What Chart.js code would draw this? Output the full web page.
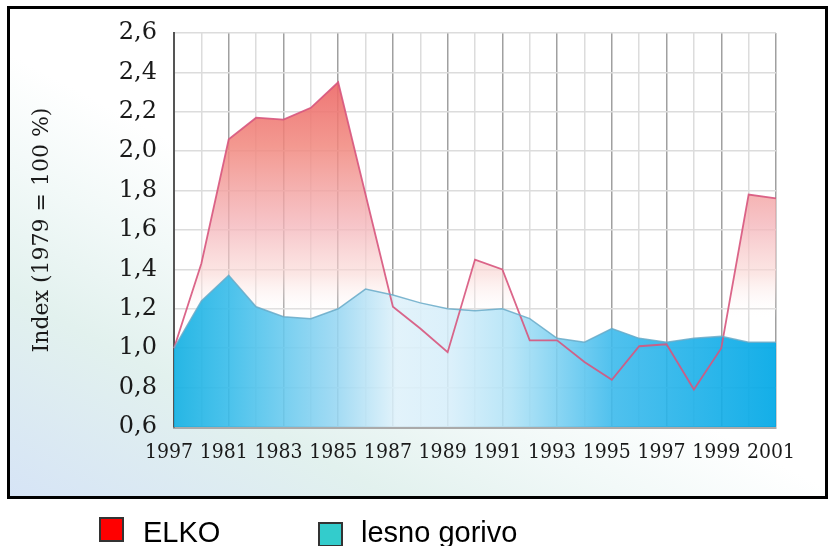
<!DOCTYPE html>
<html>
<head>
<meta charset="utf-8">
<script src="https://cdn.jsdelivr.net/npm/chart.js@4/dist/chart.umd.min.js"></script>
<style>
  html, body { margin: 0; padding: 0; background: #fff; width: 835px; height: 546px; overflow: hidden; }
  #frame {
    position: absolute; left: 7px; top: 6px; width: 821px; height: 493px;
    box-sizing: border-box; border: 3px solid #000;
    background: linear-gradient(28deg, rgba(214,228,246,1) 0%, rgba(226,241,238,1) 22%, rgba(242,249,248,1) 36%, #fff 48%);
  }
  #chart { position: absolute; left: 0; top: 0; }
  .key { position: absolute; width: 25px; height: 25px; box-sizing: border-box; border: 2px solid #333; }
  .lbl { position: absolute; font-family: "Liberation Sans", Arial, sans-serif; font-size: 29px; line-height: 29px; color: #000; white-space: nowrap; }
</style>
</head>
<body>
<div id="frame"></div>
<canvas id="chart" width="835" height="546"></canvas>
<div class="key" style="left:99px; top:517px; background:#ff0000;"></div>
<div class="lbl" style="left:143px; top:518px;">ELKO</div>
<div class="key" style="left:318px; top:522px; background:#33cccc;"></div>
<div class="lbl" style="left:361px; top:518px;">lesno gorivo</div>
<script>
// Years on the category axis (index 1979 = 100 %)
const years = [1979, 1980, 1981, 1982, 1983, 1984, 1985, 1986, 1987, 1988, 1989, 1990,
               1991, 1992, 1993, 1994, 1995, 1996, 1997, 1998, 1999, 2000, 2001];
// Labels shown under every second year
const tickLabels = ['1997', '1981', '1983', '1985', '1987', '1989', '1991', '1993',
                    '1995', '1997', '1999', '2001'];
// Price index series
const elko = [1.00, 1.43, 2.06, 2.17, 2.16, 2.22, 2.35, 1.78, 1.21, 1.10, 0.98, 1.45,
              1.40, 1.04, 1.04, 0.93, 0.84, 1.01, 1.02, 0.79, 1.00, 1.78, 1.76];
const lesnoGorivo = [1.00, 1.24, 1.37, 1.21, 1.16, 1.15, 1.20, 1.30, 1.27, 1.23, 1.20, 1.19,
                     1.20, 1.15, 1.05, 1.03, 1.10, 1.05, 1.03, 1.05, 1.06, 1.03, 1.03];
const yTicks = { min: 0.6, max: 2.6, step: 0.2 };

function redFill(ctx) {
  const chart = ctx.chart;
  const area = chart.chartArea;
  if (!area) return 'rgba(240,120,120,0.6)';
  const y = chart.scales.y;
  const g = chart.ctx.createLinearGradient(0, y.getPixelForValue(2.4), 0, y.getPixelForValue(1.15));
  g.addColorStop(0.00, 'rgba(236,100,100,0.92)');
  g.addColorStop(0.30, 'rgba(241,135,125,0.85)');
  g.addColorStop(0.62, 'rgba(244,180,185,0.78)');
  g.addColorStop(0.82, 'rgba(250,215,212,0.62)');
  g.addColorStop(1.00, 'rgba(255,255,255,0)');
  return g;
}

function blueFill(ctx) {
  const chart = ctx.chart;
  const area = chart.chartArea;
  if (!area) return 'rgba(40,180,230,0.8)';
  const g = chart.ctx.createLinearGradient(area.left, 0, area.right, 0);
  g.addColorStop(0.00, 'rgba(20,176,226,0.92)');
  g.addColorStop(0.09, 'rgba(55,188,234,0.9)');
  g.addColorStop(0.27, 'rgba(150,214,242,0.88)');
  g.addColorStop(0.37, 'rgba(222,241,250,0.88)');
  g.addColorStop(0.46, 'rgba(214,238,250,0.88)');
  g.addColorStop(0.56, 'rgba(175,226,246,0.88)');
  g.addColorStop(0.73, 'rgba(60,186,236,0.9)');
  g.addColorStop(1.00, 'rgba(0,168,230,0.92)');
  return g;
}

// White plotting area on top of the tinted frame
const plotBackground = {
  id: 'plotBackground',
  beforeDraw(chart) {
    const { ctx, chartArea: a } = chart;
    ctx.save();
    ctx.fillStyle = '#fff';
    ctx.fillRect(a.left, a.top, a.right - a.left, a.bottom - a.top);
    ctx.restore();
  }
};

new Chart(document.getElementById('chart'), {
  type: 'line',
  data: {
    labels: years,
    datasets: [
      {
        label: 'lesno gorivo',
        data: lesnoGorivo,
        order: 0,
        fill: 'origin',
        backgroundColor: blueFill,
        borderColor: 'rgba(105,170,200,0.85)',
        borderWidth: 1.5,
        pointRadius: 0,
        tension: 0
      },
      {
        label: 'ELKO',
        data: elko,
        order: 1,
        fill: 'origin',
        backgroundColor: redFill,
        borderColor: 'rgba(215,85,125,0.9)',
        borderWidth: 1.8,
        pointRadius: 0,
        tension: 0
      }
    ]
  },
  options: {
    responsive: false,
    animation: false,
    layout: { padding: { left: 25, top: 33, right: 59, bottom: 59 } },
    plugins: {
      legend: { display: false },
      tooltip: { enabled: false },
      filler: { drawTime: 'beforeDatasetsDraw' }
    },
    scales: {
      x: {
        type: 'category',
        offset: false,
        afterFit(scale) { scale.height = 60; },
        border: { color: '#aaa', width: 3 },
        grid: {
          drawTicks: false,
          color: (c) => (c.index % 2 === 0 ? '#a0a0a0' : '#dcdcdc'),
          lineWidth: 1.5
        },
        ticks: {
          autoSkip: false,
          maxRotation: 0,
          padding: 13,
          labelOffset: -5,
          color: '#1a1a1a',
          font: { family: 'DejaVu Serif Condensed', size: 21 },
          callback: (v, i) => (i % 2 === 0 ? tickLabels[i / 2] : '')
        }
      },
      y: {
        min: yTicks.min,
        max: yTicks.max,
        afterFit(scale) { scale.width = 149; },
        border: { color: '#555', width: 2 },
        grid: { drawTicks: false, color: '#dcdcdc', lineWidth: 1.5 },
        ticks: {
          stepSize: yTicks.step,
          padding: 17,
          color: '#1a1a1a',
          font: { family: 'DejaVu Serif', size: 24 },
          callback: (v) => v.toFixed(1).replace('.', ',')
        },
        title: {
          display: true,
          text: 'Index (1979 = 100 %)',
          color: '#1a1a1a',
          padding: { top: 4, bottom: 0 },
          font: { family: 'DejaVu Serif', size: 22 }
        }
      }
    }
  },
  plugins: [plotBackground]
});
</script>
</body>
</html>
